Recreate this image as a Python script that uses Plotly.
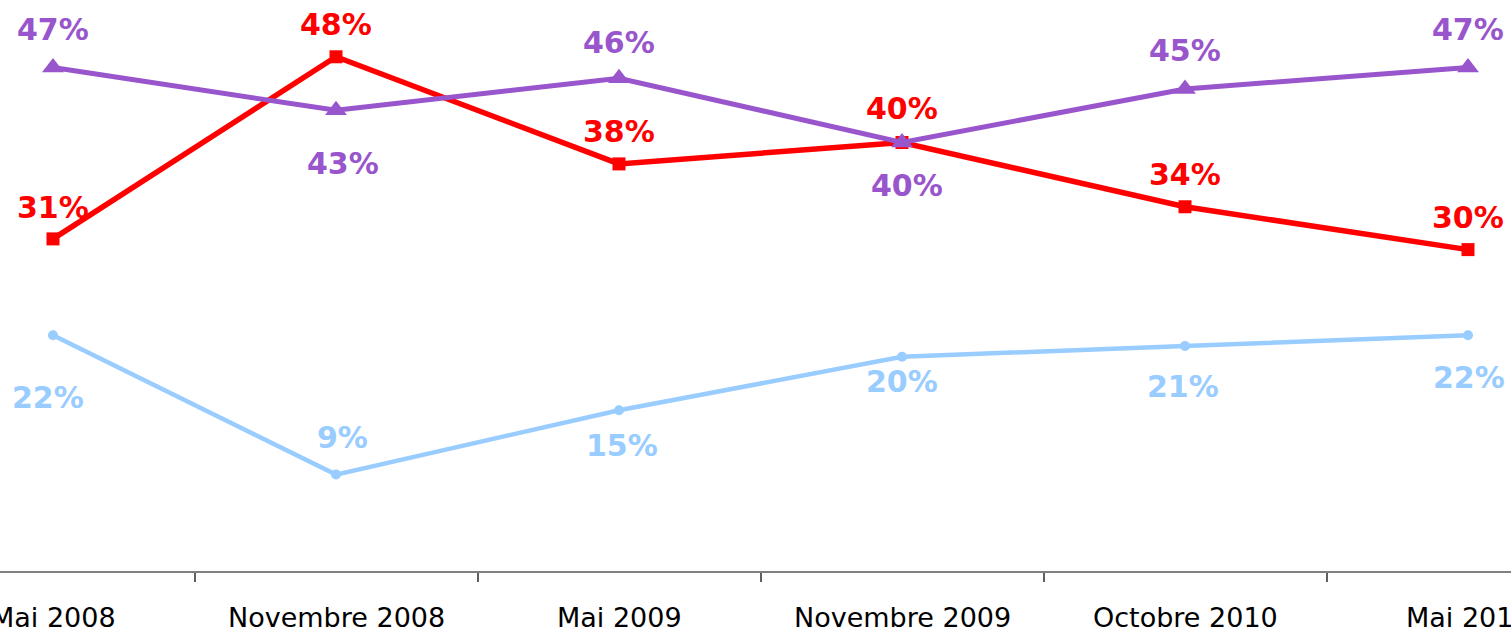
import plotly.graph_objects as go

categories = ["Mai 2008", "Novembre 2008", "Mai 2009", "Novembre 2009", "Octobre 2010", "Mai 2011"]
purple_values = [47, 43, 46, 40, 45, 47]
red_values = [31, 48, 38, 40, 34, 30]
blue_values = [22, 9, 15, 20, 21, 22]

# label offsets in pixels (style)
purple_yshift = [38, -53, 36, -43, 38, 38]
purple_xshift = [0, 7, 0, 5, 0, 0]
red_yshift = [31, 32, 32, 34, 32, 32]
red_xshift = [0, 0, 0, 0, 0, 0]
blue_yshift = [-62, 37, -35, -25, -40, -42]
blue_xshift = [-5, 6, 3, 0, -2, 1]

x = list(range(len(categories)))

PURPLE = "#9955CC"
RED = "#FF0000"
BLUE = "#99CCFF"

fig = go.Figure()
fig.add_trace(go.Scatter(x=x, y=blue_values, mode="lines+markers",
                         line=dict(color=BLUE, width=4.5),
                         marker=dict(symbol="circle", size=10, color=BLUE),
                         hoverinfo="skip", showlegend=False))
fig.add_trace(go.Scatter(x=x, y=red_values, mode="lines+markers",
                         line=dict(color=RED, width=5.5),
                         marker=dict(symbol="square", size=13, color=RED),
                         hoverinfo="skip", showlegend=False))
fig.add_trace(go.Scatter(x=x, y=purple_values, mode="lines+markers",
                         line=dict(color=PURPLE, width=5),
                         marker=dict(symbol="triangle-up", size=19, color=PURPLE),
                         hoverinfo="skip", showlegend=False))

annotations = []
for vals, ys, xs, col in [(blue_values, blue_yshift, blue_xshift, BLUE),
                          (red_values, red_yshift, red_xshift, RED),
                          (purple_values, purple_yshift, purple_xshift, PURPLE)]:
    for i, v in enumerate(vals):
        annotations.append(dict(x=x[i], y=v, text=f"{v}%", showarrow=False,
                                xanchor="center", yanchor="middle",
                                xshift=xs[i], yshift=ys[i],
                                font=dict(family="DejaVu Sans", size=30, color=col, weight="bold")))

# category labels below the axis (drawn as annotations so edge labels are clipped, not dropped)
for i, c in enumerate(categories):
    annotations.append(dict(x=x[i], xref="x", y=0, yref="paper", text=c, showarrow=False,
                            xanchor="center", yanchor="middle", yshift=-46,
                            font=dict(family="DejaVu Sans", size=27, color="black")))

fig.update_layout(
    width=1511, height=634,
    margin=dict(l=0, r=0, t=0, b=63, autoexpand=False),
    paper_bgcolor="white", plot_bgcolor="white",
    annotations=annotations,
    xaxis=dict(range=[-53/283, (1511-53)/283], tickmode="array", tickvals=x,
               showticklabels=False, automargin=False,
               showgrid=False, zeroline=False, showline=True, linecolor="#808080", linewidth=2,
               ticks="",
               minor=dict(tickmode="array", tickvals=[i + 0.5 for i in x[:-1]],
                          ticks="outside", ticklen=9, tickcolor="#606060", tickwidth=1.5, showgrid=False)),
    yaxis=dict(range=[0, 53.3], visible=False, showgrid=False, zeroline=False, automargin=False),
)

fig.write_html("out.html", config={"displayModeBar": False})

with open("out.html", "r", encoding="utf-8") as f:
    html = f.read()
html = html.replace("<body>", '<body style="margin:0;padding:0;overflow:hidden">', 1)
with open("out.html", "w", encoding="utf-8") as f:
    f.write(html)
